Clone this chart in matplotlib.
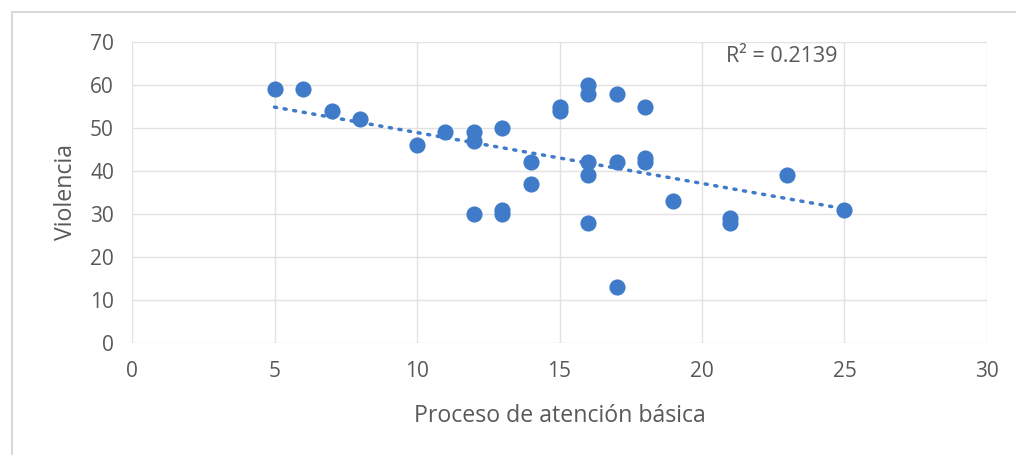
import numpy as np
import matplotlib
matplotlib.use('Agg')
import matplotlib.pyplot as plt
from matplotlib.patches import Rectangle

plt.rcParams['font.family'] = ['Open Sans', 'DejaVu Sans']

# datos
atencion = [5, 6, 7, 8, 10, 11, 12, 12, 12, 13, 13, 13, 14, 14, 15, 15,
            16, 16, 16, 16, 16, 17, 17, 17, 18, 18, 18, 19, 21, 21, 23, 25]
violencia = [59, 59, 54, 52, 46, 49, 49, 47, 30, 50, 31, 30, 42, 37, 55, 54,
             60, 58, 42, 39, 28, 58, 42, 13, 55, 43, 42, 33, 29, 28, 39, 31]
r2_text = 'R² = 0.2139'
x_ticks = [0, 5, 10, 15, 20, 25, 30]
y_ticks = [0, 10, 20, 30, 40, 50, 60, 70]

blue = '#3f7bc8'
grid_c = '#e2e2e2'
txt_c = '#595959'

fig = plt.figure(figsize=(10.16, 4.55), dpi=100)
fig.patches.append(Rectangle((12 / 1016, -0.1), 1.2, 1 - 12 / 455 + 0.1,
                             transform=fig.transFigure, fill=False,
                             edgecolor='#d9d9d9', lw=1.5))
ax = fig.add_axes([132 / 1016, (455 - 343) / 455, 855 / 1016, 301 / 455])

ax.scatter(atencion, violencia, s=135, color=blue, zorder=3, linewidths=0)

# linea de tendencia lineal
m, b = np.polyfit(atencion, violencia, 1)
xs = np.array([min(atencion), max(atencion)])
ax.plot(xs, m * xs + b, color=blue, lw=2.5, linestyle=(0, (0.6, 2.2)),
        dash_capstyle='round', zorder=2)

ax.text(20.85, 66.6, r2_text, fontsize=15.5, color=txt_c, va='center', ha='left')

ax.set_xlim(0, 30)
ax.set_ylim(0, 70)
ax.set_xticks(x_ticks)
ax.set_yticks(y_ticks)
ax.grid(True, color=grid_c, lw=1)
ax.set_axisbelow(True)
for s in ax.spines.values():
    s.set_visible(False)
ax.tick_params(length=0, labelsize=15, labelcolor=txt_c)
ax.tick_params(axis='x', pad=13)
ax.tick_params(axis='y', pad=13)
ax.set_xlabel('Proceso de atención básica', fontsize=16.7, color=txt_c, labelpad=16)
ax.set_ylabel('Violencia', fontsize=16.7, color=txt_c, labelpad=9)

fig.savefig('out.png', dpi=100)
